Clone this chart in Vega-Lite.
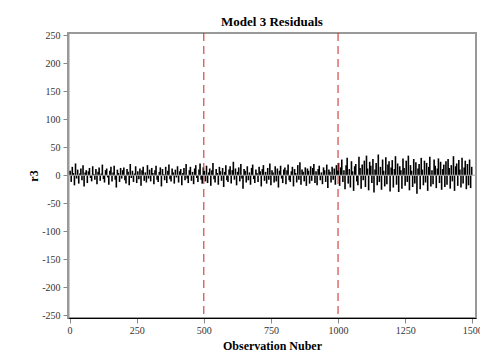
{
 "$schema": "https://vega.github.io/schema/vega-lite/v6.json",
 "width": 408, "height": 285,
 "autosize": {"type": "none"},
 "padding": {"left": 68, "top": 33, "right": 4, "bottom": 46},
 "title": {"text": "Model 3 Residuals", "font": "Liberation Serif", "fontSize": 13, "fontWeight": "bold", "color": "#000000", "offset": 1, "anchor": "middle"},
 "config": {
  "view": {"stroke": "#999999", "strokeWidth": 2},
  "axis": {"labelFont": "Liberation Serif", "titleFont": "Liberation Serif", "labelFontSize": 10, "titleFontSize": 12, "titleFontWeight": "bold", "labelColor": "#333333", "titleColor": "#000000", "tickColor": "#888888", "grid": false, "labelOverlap": false},
  "axisX": {"domainColor": "#000000", "domainWidth": 1, "tickSize": 5, "labelPadding": 2, "titlePadding": 5},
  "axisY": {"domainColor": "#999999", "domainWidth": 2, "tickSize": 5, "labelPadding": 3, "titlePadding": 1}
 },
 "datasets": {
  "res": [
{"x":2,"r":8},{"x":6,"r":-12},{"x":10,"r":15},{"x":14,"r":4},{"x":18,"r":-18},{"x":22,"r":21},{"x":26,"r":-6},{"x":30,"r":10},{"x":34,"r":-15},{"x":38,"r":3},{"x":42,"r":12},{"x":46,"r":-9},{"x":50,"r":18},{"x":54,"r":-20},{"x":58,"r":5},{"x":62,"r":9},{"x":66,"r":-14},{"x":70,"r":7},{"x":74,"r":13},{"x":78,"r":-5},{"x":82,"r":-11},{"x":86,"r":16},{"x":90,"r":2},{"x":94,"r":-8},{"x":98,"r":11},
{"x":102,"r":-16},{"x":106,"r":6},{"x":110,"r":14},{"x":114,"r":-10},{"x":118,"r":3},{"x":122,"r":19},{"x":126,"r":-7},{"x":130,"r":-13},{"x":134,"r":9},{"x":138,"r":12},{"x":142,"r":-4},{"x":146,"r":-17},{"x":150,"r":8},{"x":154,"r":15},{"x":158,"r":-11},{"x":162,"r":5},{"x":166,"r":17},{"x":170,"r":-8},{"x":174,"r":-22},{"x":178,"r":10},{"x":182,"r":4},{"x":186,"r":-12},{"x":190,"r":13},{"x":194,"r":-6},{"x":198,"r":9},
{"x":202,"r":14},{"x":206,"r":-9},{"x":210,"r":-15},{"x":214,"r":11},{"x":218,"r":6},{"x":222,"r":-18},{"x":226,"r":20},{"x":230,"r":-5},{"x":234,"r":8},{"x":238,"r":-12},{"x":242,"r":3},{"x":246,"r":16},{"x":250,"r":-14},{"x":254,"r":7},{"x":258,"r":-7},{"x":262,"r":12},{"x":266,"r":-19},{"x":270,"r":9},{"x":274,"r":15},{"x":278,"r":-10},{"x":282,"r":5},{"x":286,"r":-13},{"x":290,"r":18},{"x":294,"r":-6},{"x":298,"r":10},
{"x":302,"r":-11},{"x":306,"r":13},{"x":310,"r":4},{"x":314,"r":-16},{"x":318,"r":9},{"x":322,"r":17},{"x":326,"r":-8},{"x":330,"r":-12},{"x":334,"r":6},{"x":338,"r":14},{"x":342,"r":-20},{"x":346,"r":11},{"x":350,"r":2},{"x":354,"r":-9},{"x":358,"r":15},{"x":362,"r":-14},{"x":366,"r":8},{"x":370,"r":19},{"x":374,"r":-7},{"x":378,"r":-11},{"x":382,"r":12},{"x":386,"r":5},{"x":390,"r":-15},{"x":394,"r":10},{"x":398,"r":-4},
{"x":402,"r":16},{"x":406,"r":-13},{"x":410,"r":7},{"x":414,"r":11},{"x":418,"r":-18},{"x":422,"r":4},{"x":426,"r":13},{"x":430,"r":-9},{"x":434,"r":20},{"x":438,"r":-6},{"x":442,"r":-14},{"x":446,"r":9},{"x":450,"r":15},{"x":454,"r":-10},{"x":458,"r":6},{"x":462,"r":-16},{"x":466,"r":12},{"x":470,"r":18},{"x":474,"r":-5},{"x":478,"r":-12},{"x":482,"r":10},{"x":486,"r":21},{"x":490,"r":-8},{"x":494,"r":-15},{"x":498,"r":14},
{"x":502,"r":8},{"x":506,"r":-11},{"x":510,"r":17},{"x":514,"r":-14},{"x":518,"r":5},{"x":522,"r":12},{"x":526,"r":-19},{"x":530,"r":9},{"x":534,"r":22},{"x":538,"r":-7},{"x":542,"r":-13},{"x":546,"r":11},{"x":550,"r":4},{"x":554,"r":-17},{"x":558,"r":15},{"x":562,"r":7},{"x":566,"r":-10},{"x":570,"r":13},{"x":574,"r":-21},{"x":578,"r":6},{"x":582,"r":18},{"x":586,"r":-9},{"x":590,"r":-12},{"x":594,"r":10},{"x":598,"r":16},
{"x":602,"r":-15},{"x":606,"r":9},{"x":610,"r":24},{"x":614,"r":-8},{"x":618,"r":12},{"x":622,"r":-18},{"x":626,"r":6},{"x":630,"r":14},{"x":634,"r":-11},{"x":638,"r":20},{"x":642,"r":-6},{"x":646,"r":-24},{"x":650,"r":11},{"x":654,"r":8},{"x":658,"r":-13},{"x":662,"r":16},{"x":666,"r":-9},{"x":670,"r":5},{"x":674,"r":-17},{"x":678,"r":13},{"x":682,"r":19},{"x":686,"r":-7},{"x":690,"r":-14},{"x":694,"r":10},{"x":698,"r":4},
{"x":702,"r":-12},{"x":706,"r":15},{"x":710,"r":7},{"x":714,"r":-20},{"x":718,"r":11},{"x":722,"r":18},{"x":726,"r":-10},{"x":730,"r":6},{"x":734,"r":-15},{"x":738,"r":13},{"x":742,"r":-8},{"x":746,"r":21},{"x":750,"r":-18},{"x":754,"r":9},{"x":758,"r":5},{"x":762,"r":-13},{"x":766,"r":16},{"x":770,"r":-11},{"x":774,"r":12},{"x":778,"r":-22},{"x":782,"r":8},{"x":786,"r":17},{"x":790,"r":-6},{"x":794,"r":-14},{"x":798,"r":10},
{"x":802,"r":14},{"x":806,"r":-16},{"x":810,"r":9},{"x":814,"r":19},{"x":818,"r":-9},{"x":822,"r":-12},{"x":826,"r":7},{"x":830,"r":15},{"x":834,"r":-20},{"x":838,"r":11},{"x":842,"r":4},{"x":846,"r":-13},{"x":850,"r":18},{"x":854,"r":-8},{"x":858,"r":23},{"x":862,"r":-17},{"x":866,"r":10},{"x":870,"r":6},{"x":874,"r":-11},{"x":878,"r":14},{"x":882,"r":-19},{"x":886,"r":12},{"x":890,"r":8},{"x":894,"r":-15},{"x":898,"r":16},
{"x":902,"r":-10},{"x":906,"r":13},{"x":910,"r":20},{"x":914,"r":-14},{"x":918,"r":7},{"x":922,"r":-18},{"x":926,"r":11},{"x":930,"r":17},{"x":934,"r":-9},{"x":938,"r":5},{"x":942,"r":-16},{"x":946,"r":14},{"x":950,"r":9},{"x":954,"r":-12},{"x":958,"r":19},{"x":962,"r":-23},{"x":966,"r":10},{"x":970,"r":6},{"x":974,"r":-13},{"x":978,"r":15},{"x":982,"r":-8},{"x":986,"r":12},{"x":990,"r":-17},{"x":994,"r":18},{"x":998,"r":9},
{"x":1002,"r":22},{"x":1006,"r":-19},{"x":1010,"r":14},{"x":1014,"r":28},{"x":1018,"r":-12},{"x":1022,"r":9},{"x":1026,"r":-25},{"x":1030,"r":18},{"x":1034,"r":31},{"x":1038,"r":-15},{"x":1042,"r":11},{"x":1046,"r":-22},{"x":1050,"r":25},{"x":1054,"r":7},{"x":1058,"r":-28},{"x":1062,"r":16},{"x":1066,"r":20},{"x":1070,"r":-11},{"x":1074,"r":-18},{"x":1078,"r":33},{"x":1082,"r":13},{"x":1086,"r":-24},{"x":1090,"r":19},{"x":1094,"r":-9},{"x":1098,"r":26},
{"x":1102,"r":-21},{"x":1106,"r":35},{"x":1110,"r":12},{"x":1114,"r":-27},{"x":1118,"r":24},{"x":1122,"r":17},{"x":1126,"r":-14},{"x":1130,"r":29},{"x":1134,"r":-31},{"x":1138,"r":10},{"x":1142,"r":22},{"x":1146,"r":-18},{"x":1150,"r":37},{"x":1154,"r":-12},{"x":1158,"r":15},{"x":1162,"r":-26},{"x":1166,"r":28},{"x":1170,"r":8},{"x":1174,"r":-20},{"x":1178,"r":32},{"x":1182,"r":-16},{"x":1186,"r":19},{"x":1190,"r":25},{"x":1194,"r":-29},{"x":1198,"r":14},
{"x":1202,"r":27},{"x":1206,"r":-22},{"x":1210,"r":11},{"x":1214,"r":34},{"x":1218,"r":-17},{"x":1222,"r":21},{"x":1226,"r":-30},{"x":1230,"r":16},{"x":1234,"r":9},{"x":1238,"r":-24},{"x":1242,"r":30},{"x":1246,"r":13},{"x":1250,"r":-19},{"x":1254,"r":26},{"x":1258,"r":-12},{"x":1262,"r":35},{"x":1266,"r":-27},{"x":1270,"r":18},{"x":1274,"r":8},{"x":1278,"r":-21},{"x":1282,"r":29},{"x":1286,"r":-15},{"x":1290,"r":23},{"x":1294,"r":-33},{"x":1298,"r":12},
{"x":1302,"r":20},{"x":1306,"r":-25},{"x":1310,"r":31},{"x":1314,"r":10},{"x":1318,"r":-18},{"x":1322,"r":26},{"x":1326,"r":-13},{"x":1330,"r":22},{"x":1334,"r":-28},{"x":1338,"r":15},{"x":1342,"r":33},{"x":1346,"r":-20},{"x":1350,"r":9},{"x":1354,"r":-16},{"x":1358,"r":28},{"x":1362,"r":17},{"x":1366,"r":-23},{"x":1370,"r":12},{"x":1374,"r":30},{"x":1378,"r":-14},{"x":1382,"r":24},{"x":1386,"r":-26},{"x":1390,"r":11},{"x":1394,"r":19},{"x":1398,"r":-21},
{"x":1402,"r":25},{"x":1406,"r":-17},{"x":1410,"r":29},{"x":1414,"r":13},{"x":1418,"r":-24},{"x":1422,"r":18},{"x":1426,"r":-11},{"x":1430,"r":34},{"x":1434,"r":-28},{"x":1438,"r":16},{"x":1442,"r":21},{"x":1446,"r":-19},{"x":1450,"r":27},{"x":1454,"r":10},{"x":1458,"r":-22},{"x":1462,"r":31},{"x":1466,"r":-15},{"x":1470,"r":14},{"x":1474,"r":26},{"x":1478,"r":-25},{"x":1482,"r":20},{"x":1486,"r":-18},{"x":1490,"r":28},{"x":1494,"r":-23},{"x":1498,"r":15}
  ],
  "refs": [{"x": 500}, {"x": 1000}]
 },
 "layer": [
  {
   "data": {"name": "res"},
   "mark": {"type": "rule", "color": "#000000", "strokeWidth": 1.6},
   "encoding": {
    "x": {"field": "x", "type": "quantitative", "scale": {"domain": [-6, 1514], "nice": false, "zero": false},
          "axis": {"values": [0, 250, 500, 750, 1000, 1250, 1500], "labelExpr": "'' + datum.value", "title": "Observation Nuber"}},
    "y": {"field": "r", "type": "quantitative", "scale": {"domain": [-255, 254], "nice": false},
          "axis": {"values": [-250, -200, -150, -100, -50, 0, 50, 100, 150, 200, 250], "labelExpr": "'' + datum.value", "title": "r3"}},
    "y2": {"datum": 0}
   }
  },
  {
   "data": {"values": [{}]},
   "mark": {"type": "rule", "color": "#aaaaaa", "strokeWidth": 1},
   "encoding": {"y": {"datum": 0, "type": "quantitative", "scale": {"domain": [-255, 254], "nice": false},
          "axis": {"values": [-250, -200, -150, -100, -50, 0, 50, 100, 150, 200, 250], "labelExpr": "'' + datum.value", "title": "r3"}}}
  },
  {
   "data": {"name": "refs"},
   "mark": {"type": "rule", "color": "#cc2222", "strokeDash": [8, 5], "strokeWidth": 1},
   "encoding": {"x": {"field": "x", "type": "quantitative", "scale": {"domain": [-6, 1514], "nice": false, "zero": false},
          "axis": {"values": [0, 250, 500, 750, 1000, 1250, 1500], "labelExpr": "'' + datum.value", "title": "Observation Nuber"}}}
  }
 ]
}
